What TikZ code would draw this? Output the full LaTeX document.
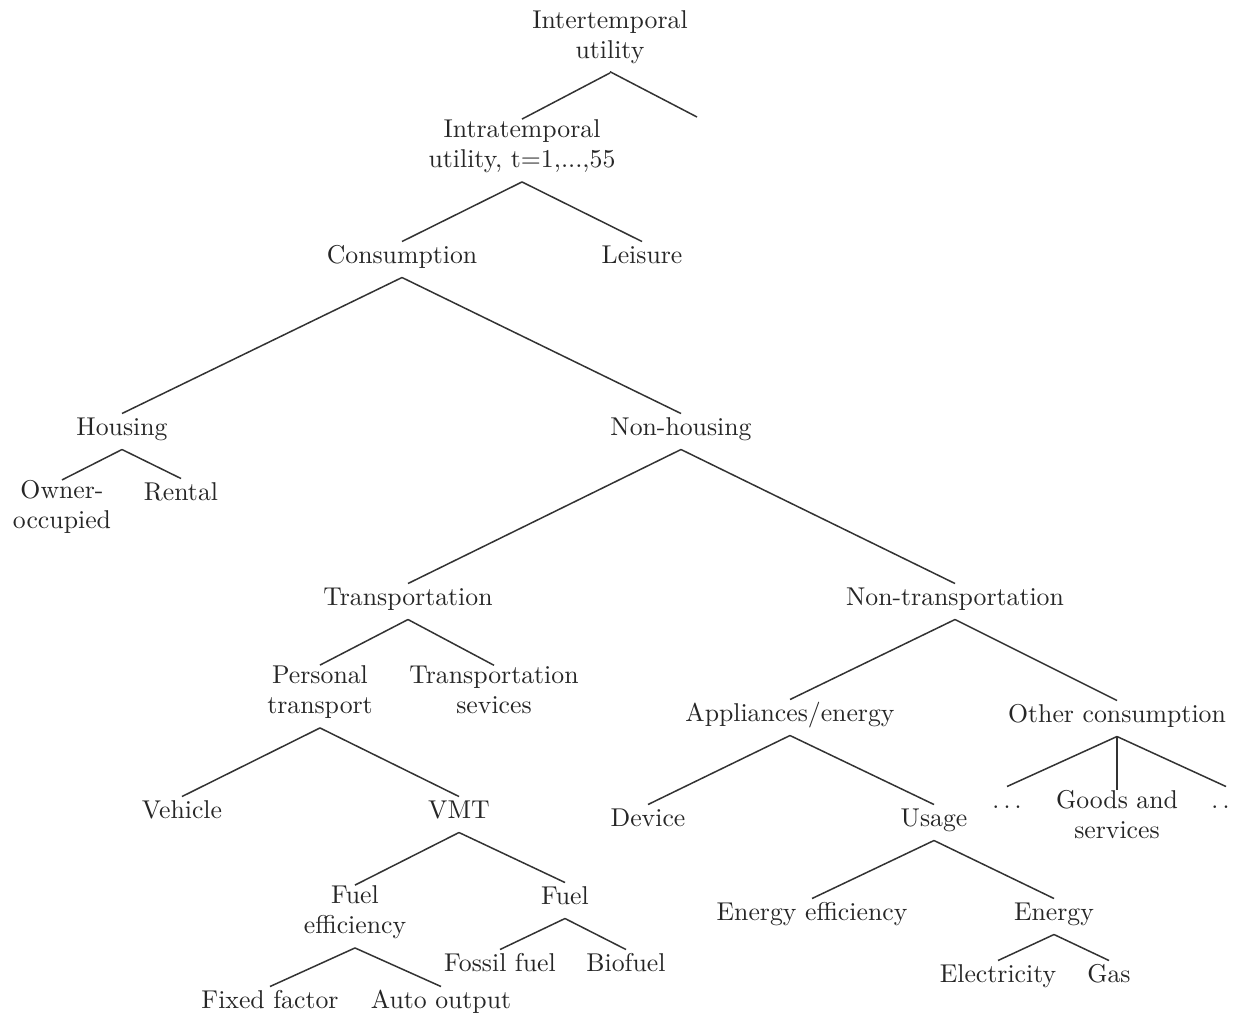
\documentclass[tikz,border=0pt]{standalone}
\begin{document}
\begin{tikzpicture}[x=0.4pt,y=-0.4pt,
  lbl/.style={inner xsep=1pt, inner ysep=0pt, align=center,
    font=\fontsize{10.3}{12}\selectfont, text=black!85,
    execute at begin node=\strut, execute at end node=\strut},
  edge/.style={draw=black!80, line width=0.6pt}]
\useasboundingbox (0,0) rectangle (1233,1016);
% level 0-2
\node[lbl] (inter) at (610,39) {Intertemporal\\utility};
\coordinate (empty) at (697,117);
\node[lbl] (intra) at (522,148) {Intratemporal\\utility, t=1,...,55};
\node[lbl] (cons) at (402,257) {Consumption};
\node[lbl] (leis) at (642,257) {Leisure};
% housing
\node[lbl] (hous) at (122,429) {Housing};
\node[lbl] (owner) at (62,509) {Owner-\\occupied};
\node[lbl] (rent) at (181,494) {Rental};
\node[lbl] (nonh) at (681,429) {Non-housing};
% transportation
\node[lbl] (trans) at (408,599) {Transportation};
\node[lbl] (pers) at (320,694) {Personal\\transport};
\node[lbl] (tserv) at (494,694) {Transportation\\sevices};
\node[lbl] (veh) at (182,812) {Vehicle};
\node[lbl] (vmt) at (459,812) {VMT};
\node[lbl] (feff) at (355,914) {Fuel\\efficiency};
\node[lbl] (fuel) at (565,898) {Fuel};
\node[lbl] (fixed) at (270,1002) {Fixed factor};
\node[lbl] (auto) at (441,1002) {Auto output};
\node[lbl] (fossil) at (500,965) {Fossil fuel};
\node[lbl] (bio) at (626,965) {Biofuel};
% non-transportation
\node[lbl] (ntrans) at (955,599) {Non-transportation};
\node[lbl] (appl) at (790,715) {Appliances/energy};
\node[lbl] (other) at (1117,716) {Other consumption};
\node[lbl] (dev) at (648,820) {Device};
\node[lbl] (usage) at (934,820) {Usage};
\node[lbl] (eeff) at (812,914) {Energy efficiency};
\node[lbl] (energy) at (1054,914) {Energy};
\node[lbl] (elec) at (998,976) {Electricity};
\node[lbl] (gas) at (1109,976) {Gas};
\node[lbl] (dotsl) at (1007,802) {$\ldots$};
\node[lbl] (goods) at (1117,819) {Goods and\\services};
\node[lbl] (dotsr) at (1226,802) {$\ldots$};
% edges
\draw[edge] ([yshift=-1.5pt]inter.south) -- (empty);
\foreach \p/\c in {inter/intra, intra/cons, intra/leis, cons/hous, cons/nonh,
  hous/owner, hous/rent, nonh/trans, nonh/ntrans, trans/pers, trans/tserv,
  pers/veh, pers/vmt, vmt/feff, vmt/fuel, feff/fixed, feff/auto,
  fuel/fossil, fuel/bio, ntrans/appl, ntrans/other, appl/dev, appl/usage,
  usage/eeff, usage/energy, energy/elec, energy/gas,
  other/dotsl, other/goods, other/dotsr}
  \draw[edge] ([yshift=-2pt]\p.south) -- (\c.north);
\end{tikzpicture}
\end{document}
